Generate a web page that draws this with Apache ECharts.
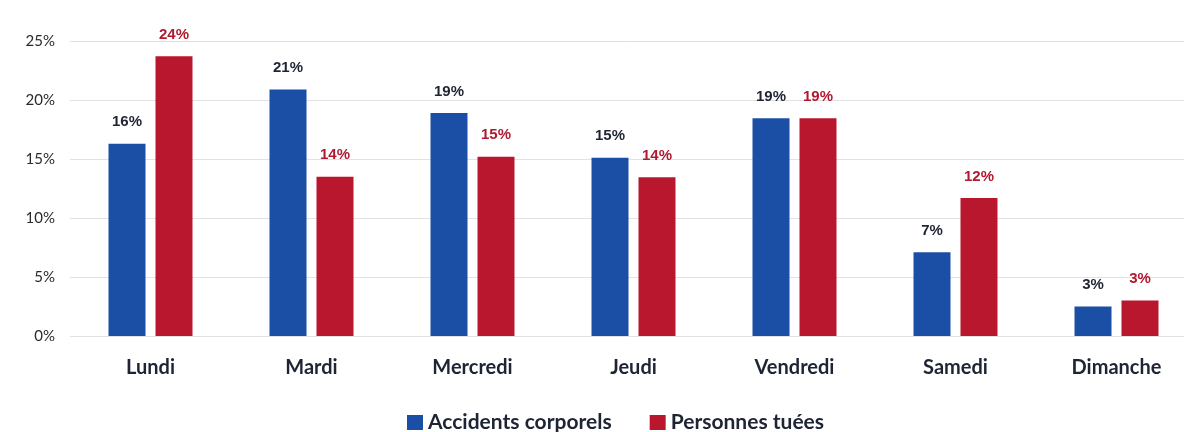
<!DOCTYPE html>
<html><head><meta charset="utf-8">
<script src="https://cdn.jsdelivr.net/npm/echarts@6/dist/echarts.min.js"></script>
<style>html,body{margin:0;padding:0;background:#fff}#c{width:1184px;height:432px}</style>
</head><body><div id="c"></div>
<script>
const categories = ["Lundi","Mardi","Mercredi","Jeudi","Vendredi","Samedi","Dimanche"];
const accidents = [16.3, 20.9, 18.9, 15.1, 18.45, 7.1, 2.5];
const tues = [23.7, 13.5, 15.2, 13.45, 18.45, 11.7, 3.0];
const accidentsLabels = ["16%","21%","19%","15%","19%","7%","3%"];
const tuesLabels = ["24%","14%","15%","14%","19%","12%","3%"];
const yTicks = [0,5,10,15,20,25];

const chart = echarts.init(document.getElementById('c'));
chart.setOption({
  backgroundColor:'#fff',
  animation:false,
  grid:{left:70, top:41, width:1127, height:295, outerBoundsMode:'none', containLabel:false},
  legend:{
    top:407, left:402, itemWidth:16, itemHeight:15, itemGap:38,
    icon:'rect',
    textStyle:{fontFamily:'Lato', fontWeight:'bold', fontSize:21, color:'#1e2433', padding:[0,0,0,0]},
    data:['Accidents corporels','Personnes tuées']
  },
  xAxis:{
    type:'category', data:categories,
    axisLine:{show:false}, axisTick:{show:false},
    axisLabel:{margin:22, fontFamily:'Lato', fontWeight:'bold', fontSize:20, color:'#1e2433'}
  },
  yAxis:{
    type:'value', min:0, max:25, interval:5,
    axisLine:{show:false}, axisTick:{show:false},
    axisLabel:{margin:15, fontFamily:'Lato', fontSize:15, color:'#2a2a2a', formatter:v=>v+'%'},
    splitLine:{lineStyle:{color:'#e2e2e2', width:1}}
  },
  series:[
    {name:'Accidents corporels', type:'bar', data:accidents, barWidth:37, barGap:'27%',
     itemStyle:{color:'#1b4fa5'},
     label:{show:true, position:'top', distance:14, fontFamily:'Liberation Sans', fontWeight:'bold', fontSize:15, color:'#1e2433',
       formatter:p=>accidentsLabels[p.dataIndex]}},
    {name:'Personnes tuées', type:'bar', data:tues, barWidth:37,
     itemStyle:{color:'#b8172d'},
     label:{show:true, position:'top', distance:14, fontFamily:'Liberation Sans', fontWeight:'bold', fontSize:15, color:'#b01a30',
       formatter:p=>tuesLabels[p.dataIndex]}}
  ]
});
</script></body></html>
